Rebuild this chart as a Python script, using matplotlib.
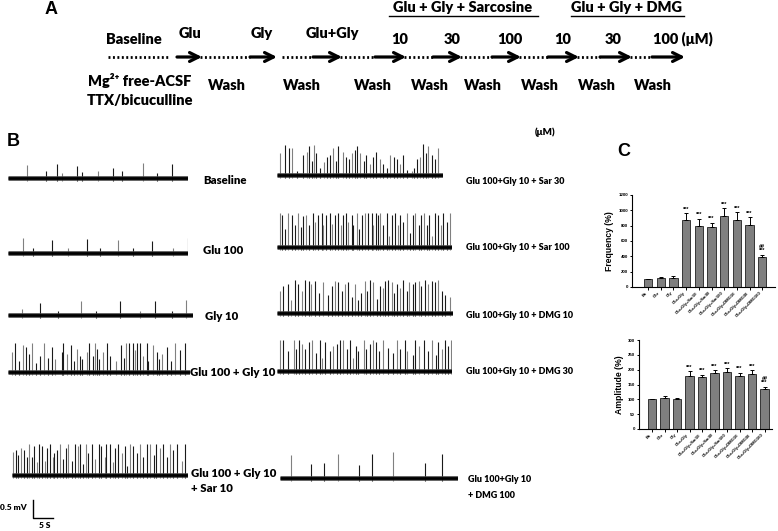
import matplotlib
matplotlib.use('Agg')
import matplotlib.pyplot as plt

# ---------------- data ----------------
# Panel B traces: (time s, spike amplitude mV)
baseline_spikes = [(4.5, 0.36), (9.0, 0.19), (11.6, 0.39), (12.8, 0.14), (16.4, 0.33), (17.5, 0.17),
                   (21.4, 0.19), (25.0, 0.28), (27.1, 0.19), (32.1, 0.42), (35.4, 0.14), (39.0, 0.39)]
glu100_spikes = [(3.6, 0.42), (6.0, 0.14), (10.4, 0.36), (14.4, 0.14), (18.9, 0.39), (21.9, 0.14),
                 (26.3, 0.36), (29.8, 0.14), (34.2, 0.33), (39.4, 0.14), (42.9, 0.42)]
gly10_spikes = [(3.3, 0.17), (7.6, 0.33), (12.0, 0.10), (17.4, 0.39), (21.0, 0.10), (26.7, 0.39),
                (31.5, 0.10), (35.0, 0.39), (39.0, 0.12), (42.4, 0.42)]
glugly_spikes = [(0.9, 0.55), (1.7, 0.8), (2.5, 0.3), (3.5, 0.75), (4.3, 0.7), (5.1, 0.5), (5.8, 0.8),
                 (6.7, 0.25), (7.6, 0.45), (8.6, 0.8), (9.6, 0.4), (10.5, 0.7), (11.2, 0.35), (12.8, 0.55),
                 (13.2, 0.8), (14.0, 0.5), (15.0, 0.75), (15.7, 0.3), (16.5, 0.65), (17.1, 0.45), (17.5, 0.35),
                 (18.7, 0.55), (19.4, 0.8), (20.3, 0.45), (20.7, 0.8), (21.3, 0.65), (21.7, 0.35), (22.5, 0.55),
                 (23.5, 0.8), (24.3, 0.45), (25.7, 0.3), (26.8, 0.75), (27.5, 0.4), (28.1, 0.8), (28.9, 0.8),
                 (29.7, 0.8), (30.2, 0.6), (30.8, 0.8), (31.4, 0.8), (32.2, 0.45), (33.0, 0.8), (33.4, 0.3),
                 (34.5, 0.75), (35.4, 0.55), (36.0, 0.35), (36.6, 0.5), (37.8, 0.7), (38.7, 0.3), (39.8, 0.8),
                 (41.0, 0.6), (42.1, 0.8)]
sar10_spikes = [(0.3, 0.65), (0.9, 0.7), (1.5, 0.55), (2.1, 0.75), (2.9, 0.7), (3.5, 0.5), (4.1, 0.85),
                (4.7, 0.5), (5.3, 0.8), (5.9, 0.35), (6.4, 0.85), (7.1, 0.8), (7.9, 0.4), (8.3, 0.75),
                (9.0, 0.85), (9.7, 0.5), (10.0, 0.6), (10.6, 0.7), (11.4, 0.85), (12.2, 0.45), (12.9, 0.75),
                (13.4, 0.85), (14.2, 0.4), (15.0, 0.85), (15.6, 0.8), (16.2, 0.85), (16.8, 0.3), (17.6, 0.85),
                (18.2, 0.6), (19.0, 0.85), (19.8, 0.45), (20.6, 0.85), (21.3, 0.8), (22.1, 0.5), (22.5, 0.85),
                (23.3, 0.85), (24.0, 0.35), (24.5, 0.75), (25.3, 0.85), (26.1, 0.6), (26.9, 0.8), (27.5, 0.25),
                (28.1, 0.85), (28.9, 0.8), (29.7, 0.6), (30.5, 0.85), (31.3, 0.5), (32.1, 0.85), (32.9, 0.85),
                (33.7, 0.55), (34.4, 0.85), (35.2, 0.75), (36.0, 0.85), (36.8, 0.5), (37.6, 0.85), (38.4, 0.7),
                (39.2, 0.85), (40.4, 0.4), (41.2, 0.85)]
sar30_spikes = [(0.7, 0.6), (1.9, 0.83), (2.9, 0.74), (3.6, 0.74), (4.7, 0.12), (6.1, 0.55), (7.1, 0.65),
                (7.7, 0.8), (8.3, 0.4), (8.9, 0.83), (9.4, 0.6), (10.2, 0.2), (11.2, 0.35), (12.0, 0.5),
                (12.6, 0.55), (13.3, 0.75), (14.0, 0.4), (14.6, 0.8), (15.6, 0.65), (16.4, 0.5), (17.2, 0.45),
                (17.8, 0.6), (18.6, 0.7), (19.1, 0.8), (19.8, 0.6), (20.7, 0.4), (21.3, 0.55), (22.1, 0.3),
                (22.9, 0.5), (23.6, 0.65), (24.5, 0.45), (25.3, 0.3), (26.1, 0.2), (26.9, 0.55), (27.9, 0.5),
                (28.5, 0.45), (29.3, 0.3), (30.1, 0.55), (30.9, 0.15), (32.1, 0.1), (32.6, 0.2), (33.3, 0.45),
                (34.0, 0.5), (34.8, 0.85), (35.5, 0.6), (36.0, 0.8), (36.8, 0.55), (37.6, 0.45), (38.4, 0.75)]
sar100_spikes = [(0.7, 0.95), (1.3, 0.9), (1.9, 0.5), (2.7, 0.95), (3.5, 0.9), (4.3, 0.6), (5.1, 0.95),
                 (5.6, 0.55), (6.3, 0.85), (6.9, 0.9), (7.7, 0.6), (8.5, 0.95), (9.0, 0.7), (9.8, 0.9),
                 (10.6, 0.95), (11.0, 0.6), (11.7, 0.9), (12.5, 0.95), (13.0, 0.65), (13.8, 0.9), (14.6, 0.95),
                 (15.2, 0.6), (15.8, 0.9), (16.4, 0.95), (17.0, 0.7), (17.8, 0.9), (18.2, 0.6), (19.0, 0.95),
                 (19.6, 0.5), (20.2, 0.9), (21.0, 0.95), (21.7, 0.95), (22.5, 0.95), (22.9, 0.6), (23.6, 0.95),
                 (24.1, 0.9), (24.5, 0.95), (25.3, 0.6), (26.1, 0.95), (26.7, 0.3), (27.3, 0.9), (28.1, 0.95),
                 (28.7, 0.6), (29.4, 0.9), (30.1, 0.7), (30.9, 0.95), (31.7, 0.4), (32.3, 0.9), (32.9, 0.95),
                 (33.7, 0.6), (34.4, 0.9), (35.0, 0.95), (35.6, 0.6), (36.3, 0.9), (36.8, 0.3), (37.6, 0.95),
                 (38.4, 0.9), (39.0, 0.6), (39.6, 0.95), (40.4, 0.7), (41.2, 0.95)]
dmg10_spikes = [(0.6, 0.6), (1.5, 0.74), (2.5, 0.8), (3.3, 0.37), (4.3, 0.93), (5.1, 0.8), (5.9, 0.6),
                (6.7, 0.93), (7.5, 0.88), (8.0, 0.8), (9.0, 0.88), (10.1, 0.55), (11.0, 0.85), (12.2, 0.5),
                (13.0, 0.75), (13.8, 0.9), (14.6, 0.85), (15.4, 0.6), (16.2, 0.8), (17.0, 0.85), (17.8, 0.45),
                (18.6, 0.8), (19.4, 0.35), (19.9, 0.55), (21.0, 0.9), (21.5, 0.6), (22.1, 0.93), (22.9, 0.85),
                (23.7, 0.4), (24.5, 0.75), (25.3, 0.7), (25.7, 0.9), (26.5, 0.93), (27.3, 0.85), (27.9, 0.55),
                (28.5, 0.8), (29.3, 0.7), (30.1, 0.93), (30.9, 0.6), (31.5, 0.85), (32.3, 0.8), (32.9, 0.85),
                (33.7, 0.9), (34.4, 0.75), (35.2, 0.93), (36.0, 0.8), (36.8, 0.9), (37.6, 0.85), (38.4, 0.93),
                (39.2, 0.6), (40.0, 0.5), (41.2, 0.45)]
dmg30_spikes = [(0.6, 0.85), (1.5, 0.85), (2.7, 0.55), (4.0, 0.85), (4.5, 0.6), (5.3, 0.85), (5.9, 0.75),
                (6.7, 0.6), (7.7, 0.8), (8.4, 0.85), (9.3, 0.5), (10.2, 0.85), (10.6, 0.35), (11.4, 0.8),
                (12.6, 0.55), (13.4, 0.7), (14.2, 0.75), (15.0, 0.85), (15.6, 0.85), (16.6, 0.6), (17.4, 0.85),
                (18.0, 0.35), (18.8, 0.7), (19.4, 0.55), (20.6, 0.85), (21.3, 0.6), (22.1, 0.75), (22.9, 0.85),
                (23.6, 0.8), (24.4, 0.55), (25.3, 0.85), (26.5, 0.65), (27.7, 0.5), (28.5, 0.85), (29.3, 0.6),
                (30.5, 0.85), (31.0, 0.55), (32.3, 0.45), (32.9, 0.85), (33.9, 0.7), (35.0, 0.85), (36.0, 0.55),
                (36.8, 0.85), (37.9, 0.45), (38.4, 0.8), (39.4, 0.6), (40.0, 0.85), (40.8, 0.7), (41.5, 0.85)]
dmg100_spikes = [(2.6, 0.64), (7.4, 0.39), (10.5, 0.42), (13.8, 0.67), (18.8, 0.36), (21.9, 0.67),
                 (26.9, 0.72), (34.5, 0.42), (38.6, 0.67)]

trace_labels = ["Baseline", "Glu 100", "Gly 10", "Glu 100 + Gly 10", "Glu 100 + Gly 10\n+ Sar 10",
                "Glu 100+Gly 10 + Sar 30", "Glu 100+Gly 10 + Sar 100", "Glu 100+Gly 10 + DMG 10",
                "Glu 100+Gly 10 + DMG 30", "Glu 100+Gly 10\n+ DMG 100"]
trace_durations = [42.9, 42.9, 44.0, 43.3, 41.9, 39.5, 41.7, 41.9, 41.7, 42.4]

# Panel C
conditions = ["Ba", "Glu", "Gly", "Glu+Gly", "Glu+Gly+Sar10", "Glu+Gly+Sar30", "Glu+Gly+Sar100",
              "Glu+Gly+DMG10", "Glu+Gly+DMG30", "Glu+Gly+DMG100"]
freq_vals = [100, 120, 120, 870, 790, 780, 930, 870, 810, 390]
freq_err = [0, 10, 20, 90, 100, 60, 100, 110, 100, 30]
amp_vals = [100, 105, 101, 180, 175, 188, 192, 180, 186, 135]
amp_err = [0, 7, 3, 15, 8, 10, 12, 10, 13, 8]
sig_marks = ["", "", "", "***", "***", "***", "***", "***", "***", "##\n***"]

# ---------------- figure ----------------
W, H = 778, 531
fig = plt.figure(figsize=(W / 100, H / 100), dpi=100)
ov = fig.add_axes([0, 0, 1, 1])
ov.set_xlim(0, W)
ov.set_ylim(H, 0)
ov.axis('off')

TF = ['Lato', 'DejaVu Sans']
LF = 'Liberation Sans'


def txt(x, y, s, size=10.5, ha='center', va='center', family=TF, weight='heavy', **kw):
    ov.text(x, y, s, fontsize=size, ha=ha, va=va, family=family, fontweight=weight, **kw)


# ---- Panel A ----
txt(51, 9, "A", size=13, family=LF, weight='bold')
ay = 57
dotted = [(108, 170), (200, 250), (282, 313), (340, 375), (404, 433), (460, 492), (519, 548), (577, 600), (630, 652)]
solid = [(177, 202), (250, 277), (313, 342), (375, 406), (433, 462), (492, 521), (548, 579), (600, 632), (652, 685)]
for x0, x1 in dotted:
    ov.plot([x0, x1], [ay, ay], color='k', lw=2.0, ls=(0, (0.7, 0.9)), solid_capstyle='butt')
for x0, x1 in solid:
    ov.annotate('', xy=(x1, ay), xytext=(x0, ay),
                arrowprops=dict(arrowstyle='->', lw=2.3, color='k', mutation_scale=16, shrinkA=0, shrinkB=0))

txt(134, 39, "Baseline")
txt(190, 34, "Glu")
txt(262, 34, "Gly")
txt(332, 34, "Glu+Gly")
for x, s in [(400, "10"), (452, "30"), (510, "100"), (563, "10"), (613, "30"), (683, "100 (μM)")]:
    txt(x, 39, s)
txt(463, 7, "Glu + Gly + Sarcosine")
ov.plot([389, 538], [16, 16], color='k', lw=1.0)
txt(627, 7, "Glu + Gly + DMG")
ov.plot([571, 684], [16, 16], color='k', lw=1.0)
txt(140, 80, "Mg²⁺ free-ACSF")
txt(140, 101, "TTX/bicuculline")
for x in [227, 302, 373, 430, 483, 540, 597, 653]:
    txt(x, 86, "Wash")

# ---- Panel B ----
txt(13, 141, "B", size=13, family=LF, weight='bold')
txt(545, 132, "(μM)", size=7)

PX_PER_S = 4.2
PX_PER_MV = 36.0
traces = [baseline_spikes, glu100_spikes, gly10_spikes, glugly_spikes, sar10_spikes,
          sar30_spikes, sar100_spikes, dmg10_spikes, dmg30_spikes, dmg100_spikes]
trace_pos = [(8, 178), (8, 253), (8, 315), (8, 372), (12, 475),
             (277, 175), (277, 247), (277, 313), (277, 371), (280, 478)]
label_pos = [(203, 180), (203, 251), (205, 316), (190, 372), (191, 481),
             (466, 181), (466, 248), (466, 315), (466, 372), (468, 487)]
label_size = [8.2, 8.2, 8.2, 8.2, 8.2, 6.5, 6.5, 6.5, 6.5, 6.5]
label_lsp = [1.2, 1.2, 1.2, 1.2, 1.45, 1.2, 1.2, 1.2, 1.2, 2.0]
below, above = 10, 40
for i, (sp, dur, (x0, yb)) in enumerate(zip(traces, trace_durations, trace_pos)):
    w = dur * PX_PER_S
    ax = fig.add_axes([x0 / W, 1 - (yb + below) / H, w / W, (above + below) / H])
    ax.set_xlim(0, dur)
    ax.set_ylim(-below / PX_PER_MV, above / PX_PER_MV)
    ax.axis('off')
    ts = [t for t, a in sp]
    amps = [a for t, a in sp]
    cols = ['#1a1a1a' if j % 3 else '#808080' for j in range(len(sp))]
    ax.vlines(ts, [-0.09] * len(ts), amps, colors=cols, lw=0.8)
    ax.plot([0, dur], [0, 0], color='#444444', lw=3.6, solid_capstyle='butt', alpha=0.8)
    ax.plot([0, dur], [0, 0], color='k', lw=2.0, solid_capstyle='butt')
    lx, ly = label_pos[i]
    txt(lx, ly, trace_labels[i], size=label_size[i], ha='left', linespacing=label_lsp[i])

# scale bar
txt(0, 507, "0.5 mV", size=6, ha='left')
ov.plot([33, 33, 53], [500, 518, 518], color='k', lw=1.0)
txt(45, 525, "5 S", size=6)

# ---- Panel C ----
txt(624, 152, "C", size=13, family=LF, weight='bold')


def bar_axes(box, vals, errs, ymax, ystep, ylabel, xlim):
    x0, y0, x1, y1 = box
    ax = fig.add_axes([x0 / W, 1 - y1 / H, (x1 - x0) / W, (y1 - y0) / H])
    xs = list(range(len(vals)))
    ax.bar(xs, vals, width=0.66, color='#7f7f7f', edgecolor='k', linewidth=0.5, zorder=2)
    ax.errorbar(xs, vals, yerr=[[0] * len(errs), errs], fmt='none', ecolor='k',
                elinewidth=0.7, capsize=1.3, capthick=0.7, zorder=3)
    for x, v, e, m in zip(xs, vals, errs, sig_marks):
        if m:
            ax.text(x, v + e + ymax * 0.015, m, ha='center', va='bottom', fontsize=4,
                    family=LF, fontweight='bold', linespacing=0.9)
    ax.set_ylim(0, ymax)
    ax.set_xlim(*xlim)
    ax.set_yticks(range(0, ymax + 1, ystep))
    ax.set_yticklabels([str(v) for v in range(0, ymax + 1, ystep)], fontsize=3.2, family=LF, fontweight='bold')
    ax.set_xticks(xs)
    ax.set_xticklabels(conditions, rotation=45, ha='right', fontsize=3.0, family=LF, fontweight='bold')
    ax.tick_params(axis='both', length=1.8, width=0.7, pad=1)
    for s in ['top', 'right']:
        ax.spines[s].set_visible(False)
    for s in ['left', 'bottom']:
        ax.spines[s].set_linewidth(0.8)
    ax.set_ylabel(ylabel, fontsize=6.2, family=LF, fontweight='bold', labelpad=3)
    ax.patch.set_alpha(0)
    return ax


bar_axes((632, 195, 775, 287), freq_vals, freq_err, 1200, 200, "Frequency (%)", (-1.26, 10.0))
bar_axes((639, 340, 772, 429), amp_vals, amp_err, 300, 50, "Amplitude (%)", (-1.05, 9.6))

fig.savefig("out.png", dpi=100)
